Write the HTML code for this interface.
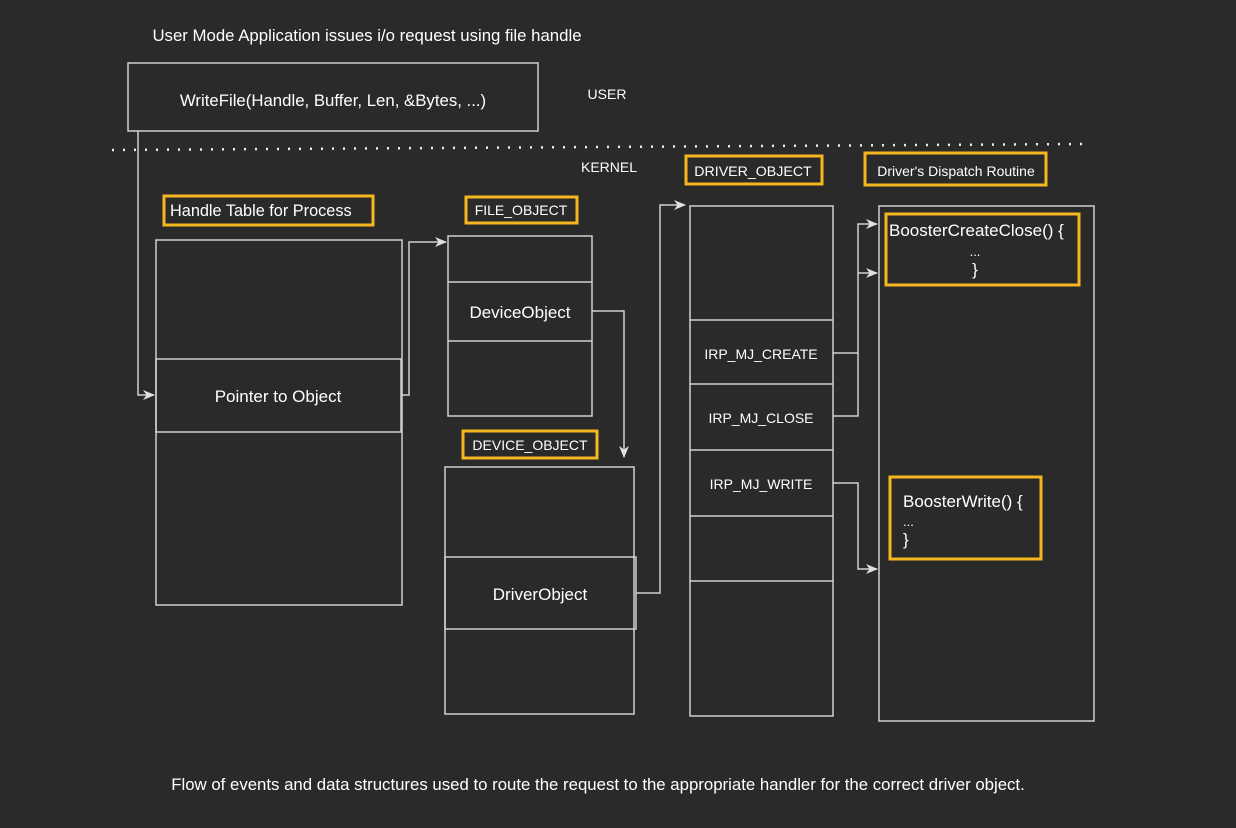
<!DOCTYPE html>
<html><head><meta charset="utf-8"><style>
html,body{margin:0;padding:0;background:#2a2a2a;}
svg{display:block;}
text{font-family:"Liberation Sans",Arial,sans-serif;fill:#fff;}
</style></head><body>
<svg width="1236" height="828" viewBox="0 0 1236 828" xmlns="http://www.w3.org/2000/svg">
<defs>
<marker id="a" viewBox="0 0 12 10" refX="11" refY="5" markerWidth="12" markerHeight="10" orient="auto" markerUnits="userSpaceOnUse">
<path d="M0,0 L12,5 L0,10 L3.5,5 Z" fill="#e0e0e0"/>
</marker>
</defs>
<rect width="1236" height="828" fill="#2a2a2a"/>
<g fill="none" stroke="#d0d0d0" stroke-width="1.5">
<rect x="128" y="63" width="410" height="68"/>
<rect x="156" y="240" width="246" height="365"/>
<rect x="156" y="359" width="245" height="73"/>
<rect x="448" y="236" width="144" height="180"/>
<line x1="448" y1="282" x2="592" y2="282"/>
<line x1="448" y1="341" x2="592" y2="341"/>
<rect x="445" y="467" width="189" height="247"/>
<rect x="445" y="557" width="191" height="72"/>
<rect x="690" y="206" width="143" height="510"/>
<line x1="690" y1="320" x2="833" y2="320"/>
<line x1="690" y1="384" x2="833" y2="384"/>
<line x1="690" y1="450" x2="833" y2="450"/>
<line x1="690" y1="516" x2="833" y2="516"/>
<line x1="690" y1="581" x2="833" y2="581"/>
<rect x="879" y="206" width="215" height="515"/>
<path d="M138,131 V395 H154" marker-end="url(#a)"/>
<path d="M402,395 H409 V242 H446" marker-end="url(#a)"/>
<path d="M592,311 H624 V457" marker-end="url(#a)"/>
<path d="M636,593 H660 V205 H685" marker-end="url(#a)"/>
<path d="M833,353 H858 V224 H877" marker-end="url(#a)"/>
<path d="M858,273 H877" marker-end="url(#a)"/>
<path d="M833,416 H858 V353"/>
<path d="M833,483 H858 V569 H877" marker-end="url(#a)"/>
</g>
<line x1="112" y1="150" x2="1085" y2="144" stroke="#eee" stroke-width="2.5" stroke-dasharray="2,9"/>
<g fill="none" stroke="#f5b720" stroke-width="3">
<rect x="164" y="196" width="209" height="29"/>
<rect x="466" y="197" width="111" height="26"/>
<rect x="463" y="431" width="134" height="27"/>
<rect x="686" y="156" width="136" height="28"/>
<rect x="865" y="153" width="181" height="32"/>
<rect x="886" y="214" width="193" height="71"/>
<rect x="890" y="477" width="151" height="82"/>
</g>
<text x="367" y="41" font-size="16.8" text-anchor="middle">User Mode Application issues i/o request using file handle</text>
<text x="333" y="106" font-size="16.8" text-anchor="middle">WriteFile(Handle, Buffer, Len, &amp;Bytes, ...)</text>
<text x="607" y="99" font-size="14" text-anchor="middle">USER</text>
<text x="609" y="172" font-size="14" text-anchor="middle">KERNEL</text>
<text x="170" y="216" font-size="16.3">Handle Table  for Process</text>
<text x="521" y="215" font-size="14" text-anchor="middle">FILE_OBJECT</text>
<text x="530" y="450" font-size="14" text-anchor="middle">DEVICE_OBJECT</text>
<text x="753" y="176" font-size="14.2" text-anchor="middle">DRIVER_OBJECT</text>
<text x="956" y="176" font-size="14" text-anchor="middle">Driver's Dispatch Routine</text>
<text x="278" y="402" font-size="17" text-anchor="middle">Pointer to Object</text>
<text x="520" y="318" font-size="17" text-anchor="middle">DeviceObject</text>
<text x="540" y="600" font-size="17" text-anchor="middle">DriverObject</text>
<text x="761" y="359" font-size="14" text-anchor="middle">IRP_MJ_CREATE</text>
<text x="761" y="423" font-size="14" text-anchor="middle">IRP_MJ_CLOSE</text>
<text x="761" y="489" font-size="14" text-anchor="middle">IRP_MJ_WRITE</text>
<text x="889" y="236" font-size="17">BoosterCreateClose() {</text>
<text x="975" y="256" font-size="13" text-anchor="middle">...</text>
<text x="975" y="275" font-size="17" text-anchor="middle">}</text>
<text x="903" y="507" font-size="17">BoosterWrite() {</text>
<text x="903" y="526" font-size="13">...</text>
<text x="903" y="545" font-size="17">}</text>
<text x="598" y="790" font-size="16.8" text-anchor="middle">Flow of events and data structures used to route the request to the appropriate handler for the correct driver object.</text>
</svg>
</body></html>
